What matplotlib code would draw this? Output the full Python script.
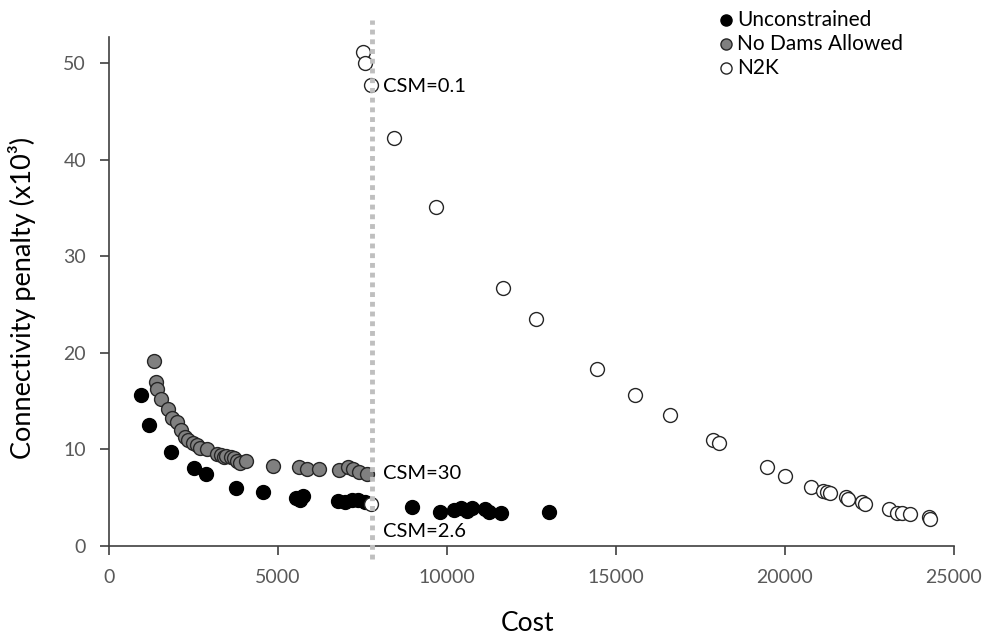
import matplotlib
matplotlib.use("Agg")
import matplotlib.pyplot as plt

# Unconstrained
unc_cost = [950, 1180, 1830, 2510, 2870, 3760, 4560, 5530, 5650, 5740,
            6780, 6980, 7190, 7370, 7570,
            8970, 9790, 10220, 10430, 10580, 10750, 11120, 11250, 11590, 13030]
unc_pen = [15.6, 12.5, 9.7, 8.1, 7.45, 6.0, 5.6, 4.97, 4.76, 5.18,
           4.66, 4.55, 4.76, 4.76, 4.55,
           4.07, 3.55, 3.73, 3.9, 3.65, 3.9, 3.8, 3.55, 3.38, 3.55]

# No Dams Allowed
nd_cost = [1340, 1390, 1430, 1530, 1740, 1855, 2000, 2120, 2250, 2345,
           2495, 2594, 2692, 2910, 3205, 3304, 3402, 3462, 3600, 3698,
           3797, 3876, 4053, 4843, 5630, 5848, 6213, 6805, 7080, 7228,
           7405, 7624]
nd_pen = [19.15, 17.0, 16.25, 15.2, 14.2, 13.3, 12.8, 12.0, 11.3, 10.97,
          10.7, 10.45, 10.1, 10.0, 9.5, 9.4, 9.25, 9.3, 9.25, 9.1,
          8.85, 8.55, 8.8, 8.3, 8.2, 7.97, 7.94, 7.87, 8.15, 7.94,
          7.7, 7.5]

# N2K
n2k_cost = [7515, 7574, 7751, 8432, 9675, 11657, 12633, 14438, 15562, 16598,
            17870, 18047, 19467, 20006, 20760, 21134, 21233, 21331, 21805, 21873,
            22269, 22367, 23086, 23304, 23452, 23698, 24270, 24290, 7742]
n2k_pen = [51.2, 50.0, 47.7, 42.3, 35.1, 26.7, 23.5, 18.3, 15.6, 13.6,
           10.97, 10.66, 8.18, 7.25, 6.14, 5.69, 5.62, 5.52, 5.04, 4.83,
           4.59, 4.35, 3.8, 3.45, 3.38, 3.28, 3.03, 2.83, 4.35]

csm_x = 7770
csm_labels = ["CSM=0.1", "CSM=30", "CSM=2.6"]
csm_label_y = [47.6, 7.5, 1.5]

plt.rcParams['font.family'] = ['Lato', 'DejaVu Sans']

fig = plt.figure(figsize=(9.87, 6.4), dpi=100)
ax = fig.add_axes([0.1104, 0.1469, 0.856, 0.795])

ms = 100
ax.scatter(unc_cost, unc_pen, s=ms, c='black', edgecolors='black', linewidths=1.0,
           label='Unconstrained', zorder=3)
ax.scatter(nd_cost, nd_pen, s=ms, c='#808080', edgecolors='#262626', linewidths=1.0,
           label='No Dams Allowed', zorder=3)
ax.scatter(n2k_cost, n2k_pen, s=ms, c='white', edgecolors='#262626', linewidths=1.0,
           label='N2K', zorder=3)

ax.plot([csm_x, csm_x], [-1.3, 54.5], color='#bfbfbf', lw=3.5, ls=(0, (1, 1)),
        clip_on=False, zorder=4)

for lab, yy in zip(csm_labels, csm_label_y):
    ax.text(csm_x + 330, yy, lab, fontsize=14.5, va='center', ha='left', color='black')

ax.set_xlim(0, 25000)
ax.set_ylim(0, 52.7)
ax.set_xticks(range(0, 25001, 5000))
ax.set_yticks(range(0, 51, 10))

for side in ['top', 'right']:
    ax.spines[side].set_visible(False)
for side in ['left', 'bottom']:
    ax.spines[side].set_color('#404040')
    ax.spines[side].set_linewidth(1.2)
ax.tick_params(direction='out', length=6.5, width=1.2, color='#404040',
               labelsize=14, labelcolor='#595959')
ax.tick_params(axis='x', pad=10)
ax.tick_params(axis='y', pad=10)

ax.set_xlabel('Cost', fontsize=19)
ax.set_ylabel('Connectivity penalty (x10³)', fontsize=19.5)
ax.xaxis.set_label_coords(0.495, -0.128)
ax.yaxis.set_label_coords(-0.086, 0.487)

fig.legend(loc='upper left', bbox_to_anchor=(0.717, 0.998), frameon=False,
           fontsize=15, handlelength=1.0, handletextpad=0.0, labelspacing=0.19,
           borderaxespad=0.0, scatterpoints=1, markerscale=0.8)

fig.savefig('out.png', dpi=100)
